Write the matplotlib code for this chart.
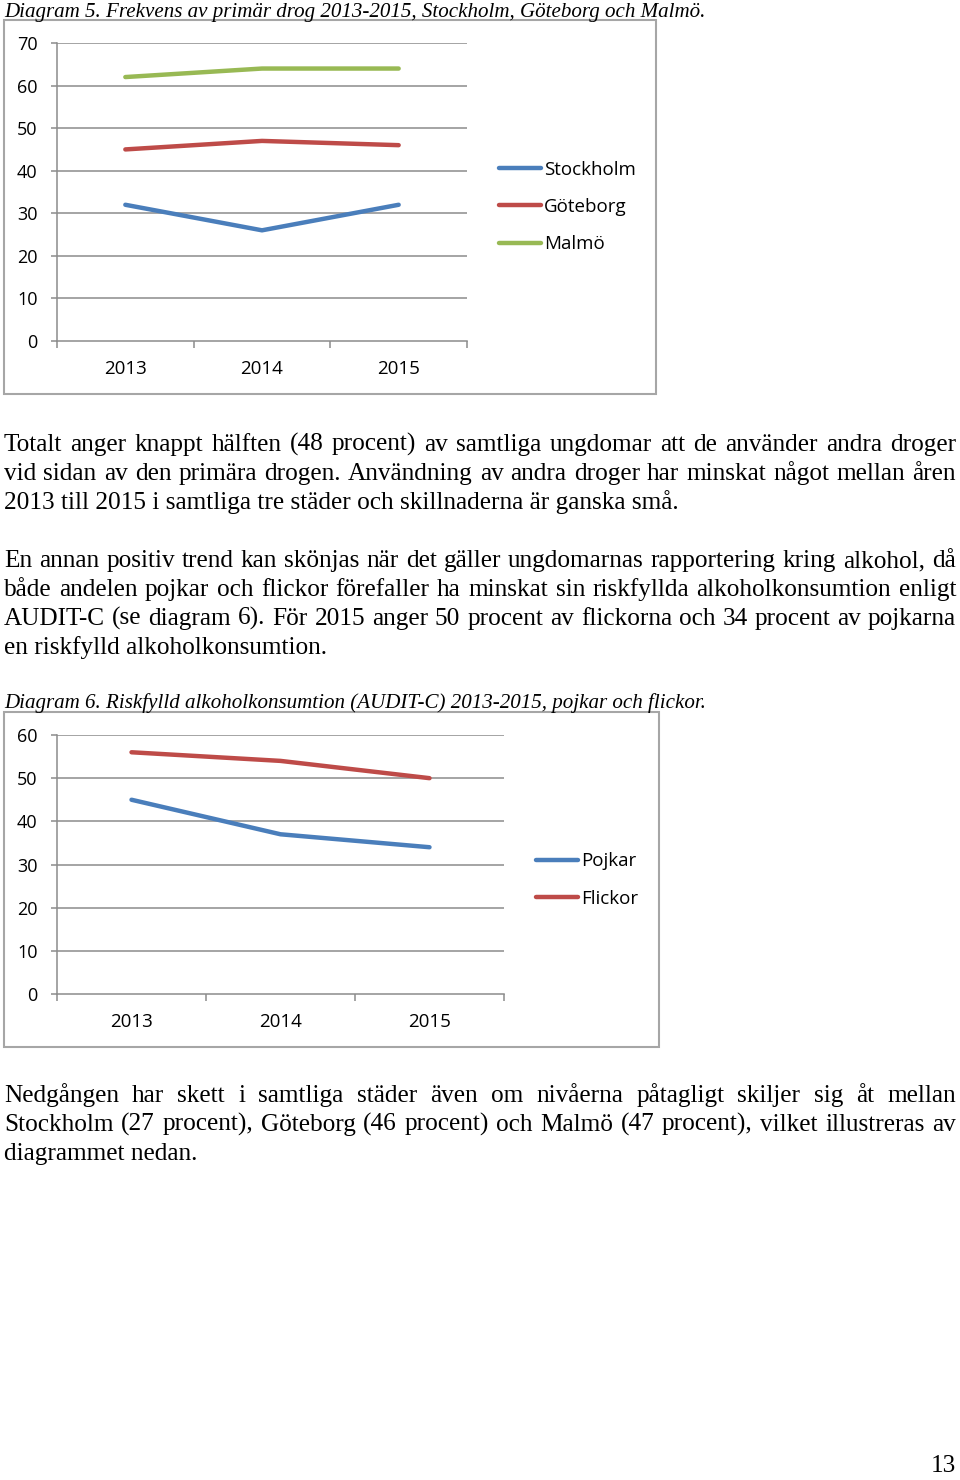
import matplotlib
matplotlib.use("Agg")
import matplotlib.pyplot as plt
from matplotlib.patches import Rectangle

# ---------------- data ----------------
years = ["2013", "2014", "2015"]
stockholm = [32, 26, 32]
goteborg = [45, 47, 46]
malmo = [62, 64, 64]
city_labels = ["Stockholm", "Göteborg", "Malmö"]

pojkar = [45, 37, 34]
flickor = [56, 54, 50]
gender_labels = ["Pojkar", "Flickor"]

caption1 = "Diagram 5. Frekvens av primär drog 2013-2015, Stockholm, Göteborg och Malmö."
caption2 = "Diagram 6. Riskfylld alkoholkonsumtion (AUDIT-C) 2013-2015, pojkar och flickor."
para1 = ["Totalt anger knappt hälften (48 procent) av samtliga ungdomar att de använder andra droger",
         "vid sidan av den primära drogen. Användning av andra droger har minskat något mellan åren",
         "2013 till 2015 i samtliga tre städer och skillnaderna är ganska små."]
para2 = ["En annan positiv trend kan skönjas när det gäller ungdomarnas rapportering kring alkohol, då",
         "både andelen pojkar och flickor förefaller ha minskat sin riskfyllda alkoholkonsumtion enligt",
         "AUDIT-C (se diagram 6). För 2015 anger 50 procent av flickorna och 34 procent av pojkarna",
         "en riskfylld alkoholkonsumtion."]
para3 = ["Nedgången har skett i samtliga städer även om nivåerna påtagligt skiljer sig åt mellan",
         "Stockholm (27 procent), Göteborg (46 procent) och Malmö (47 procent), vilket illustreras av",
         "diagrammet nedan."]
page_no = "13"

BLUE, RED, GREEN = "#4A7EBB", "#BE4B48", "#98B954"

W, H = 960, 1480
fig = plt.figure(figsize=(W / 100, H / 100), dpi=100)
fig.patch.set_facecolor("white")
renderer = fig.canvas.get_renderer()

SERIF = "Liberation Serif"
SANS = "Open Sans"


def fx(x):
    return x / W


def fy(y):
    return 1 - y / H


def text_width(s, size, italic=False):
    t = fig.text(0, 0, s, fontsize=size, family=SERIF, style="italic" if italic else "normal")
    w = t.get_window_extent(renderer).width
    t.remove()
    return w


# choose body font size so that the widest justified line nearly fills the text column
justified_lines = para1[:-1] + para2[:-1] + para3[:-1]
ref = 17.0
widest = max(text_width(l, ref) for l in justified_lines)
BODY = ref * 944 / widest
CAP = 16.0 * 704 / text_width(caption1, 16.0, italic=True)


def line_text(line, y, size, justify, italic=False, x0=4, x1=956):
    kw = dict(fontsize=size, family=SERIF, va="baseline", ha="left",
              style="italic" if italic else "normal", color="black")
    if not justify:
        fig.text(fx(x0), fy(y), line, **kw)
        return
    words = line.split(" ")
    texts = [fig.text(0, fy(y), w, **kw) for w in words]
    widths = [t.get_window_extent(renderer).width for t in texts]
    gap = (x1 - x0 - sum(widths)) / (len(words) - 1)
    x = x0
    for t, w in zip(texts, widths):
        t.set_x(fx(x))
        x += w + gap


def paragraph(lines, y0, step=29):
    for i, ln in enumerate(lines):
        line_text(ln, y0 + i * step, BODY, justify=(i < len(lines) - 1))


def chart(box, plot, ymax, series, labels, colors, legend_xy, label_rows):
    bx0, by0, bx1, by1 = box
    fig.patches.append(Rectangle((fx(bx0), fy(by1)), fx(bx1) - fx(bx0), fy(by0) - fy(by1),
                                 transform=fig.transFigure, fill=False,
                                 edgecolor="#A6A6A6", linewidth=1.5, zorder=0))
    px0, py0, px1, py1 = plot
    ax = fig.add_axes([fx(px0), fy(py1), fx(px1) - fx(px0), fy(py0) - fy(py1)])
    ax.set_facecolor("none")
    xs = list(range(len(years)))
    for vals, lab, col in zip(series, labels, colors):
        ax.plot(xs, vals, color=col, lw=3.2, label=lab, solid_capstyle="round",
                solid_joinstyle="round", zorder=3)
    ax.set_xlim(-0.5, len(years) - 0.5)
    ax.set_ylim(0, ymax)
    ax.set_yticks(range(0, ymax + 1, 10))
    ax.set_xticks(xs)
    ax.set_xticklabels(years)
    ax.set_xticks([x - 0.5 for x in range(len(years) + 1)], minor=True)
    for t in range(10, ymax + 1, 10):
        ax.axhline(t, color="#8C8C8C", lw=1.1, zorder=1)
    for s in ["top", "right"]:
        ax.spines[s].set_visible(False)
    for s in ["left", "bottom"]:
        ax.spines[s].set_color("#8C8C8C")
        ax.spines[s].set_linewidth(1.1)
    ax.tick_params(axis="y", length=4, width=1.1, color="#8C8C8C", pad=10,
                   labelsize=13, labelcolor="black")
    ax.tick_params(axis="x", which="major", length=0, pad=14, labelsize=13.5, labelcolor="black")
    ax.tick_params(axis="x", which="minor", length=5, width=1.1, color="#8C8C8C")
    for lbl in ax.get_xticklabels() + ax.get_yticklabels():
        lbl.set_family(SANS)
    leg = ax.legend(loc="center left", bbox_to_anchor=(fx(legend_xy[0]), fy(legend_xy[1])),
                    bbox_transform=fig.transFigure, frameon=False, borderpad=0,
                    borderaxespad=0, handlelength=2.25, handletextpad=0.15,
                    labelspacing=label_rows, prop={"family": SANS, "size": 13.5})
    for h in leg.get_lines():
        h.set_linewidth(3.2)
    return ax


# captions and texts
line_text(caption1, 17, CAP, justify=False, italic=True)
chart((4, 20, 656, 394), (57, 43, 467, 341), 70,
      [stockholm, goteborg, malmo], city_labels, [BLUE, RED, GREEN],
      (499, 207), 1.03)

paragraph(para1, 451)
paragraph(para2, 567)

line_text(caption2, 708, CAP, justify=False, italic=True)
chart((4, 712, 659, 1047), (57, 735, 504, 994), 60,
      [pojkar, flickor], gender_labels, [BLUE, RED],
      (536, 880), 1.03)

paragraph(para3, 1102)

fig.text(fx(956), fy(1477), page_no, fontsize=BODY, family=SERIF, ha="right", va="bottom")

fig.savefig("out.png", dpi=100, facecolor="white")
